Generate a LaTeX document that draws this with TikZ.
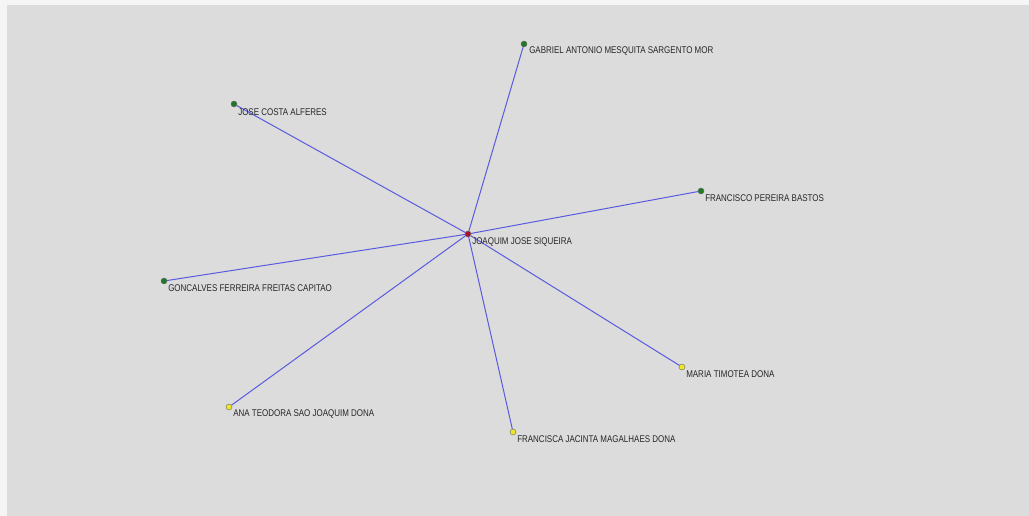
\documentclass[tikz,border=0pt]{standalone}
\usepackage{fontspec}
\setmainfont[FakeStretch=0.82]{Liberation Sans}
\usetikzlibrary{positioning}
\definecolor{panelgray}{RGB}{220,220,220}
\definecolor{edgeblue}{RGB}{90,90,225}
\definecolor{egoRed}{RGB}{170,15,45}
\definecolor{altGreen}{RGB}{30,120,40}
\definecolor{altYellow}{RGB}{235,230,40}

\tikzset{
  actor/.style={circle, inner sep=0pt, minimum size=4.5pt, draw=black!60, line width=0.3pt},
  egoactor/.style={actor, fill=egoRed},
  manactor/.style={actor, fill=altGreen},
  womanactor/.style={actor, fill=altYellow},
  tie/.style={edgeblue, line width=0.75pt},
  nametag/.style={anchor=west, inner sep=0pt, font=\fontsize{7.3}{8}\selectfont, text=black!85}
}

\begin{document}
\begin{tikzpicture}[x=0.75pt, y=-0.75pt]
    \fill[black!4] (0,0) rectangle (1029,516);
    \fill[panelgray] (7,5) rectangle (1029,516);
    \useasboundingbox (0,0) rectangle (1029,516);
    % actors
    \node[egoactor] (joaquim) at (468,234) {};
    \node[manactor] (gabriel) at (524,44) {};
    \node[manactor] (jose) at (234,104) {};
    \node[manactor] (francisco) at (701,191) {};
    \node[manactor] (goncalves) at (164,281) {};
    \node[womanactor] (ana) at (229,407) {};
    \node[womanactor] (francisca) at (513,432) {};
    \node[womanactor] (maria) at (682,367) {};
    % ties
    \foreach \alter in {gabriel,jose,francisco,goncalves,ana,francisca,maria}
      \draw[tie] (joaquim) -- (\alter);
    % names
    \node[nametag] (joaquimname) at ([shift={(4,8)}]joaquim.center) {JOAQUIM JOSE SIQUEIRA};
    \node[nametag] (gabrielname) at ([shift={(5,7)}]gabriel.center) {GABRIEL ANTONIO MESQUITA SARGENTO MOR};
    \node[nametag] (josename) at ([shift={(4,8)}]jose.center) {JOSE COSTA ALFERES};
    \node[nametag] (francisconame) at ([shift={(4,7)}]francisco.center) {FRANCISCO PEREIRA BASTOS};
    \node[nametag] (goncalvesname) at ([shift={(4,7)}]goncalves.center) {GONCALVES FERREIRA FREITAS CAPITAO};
    \node[nametag] (ananame) at ([shift={(4,7)}]ana.center) {ANA TEODORA SAO JOAQUIM DONA};
    \node[nametag] (franciscaname) at ([shift={(4,7)}]francisca.center) {FRANCISCA JACINTA MAGALHAES DONA};
    \node[nametag] (marianame) at ([shift={(4,7)}]maria.center) {MARIA TIMOTEA DONA};
\end{tikzpicture}
\end{document}
